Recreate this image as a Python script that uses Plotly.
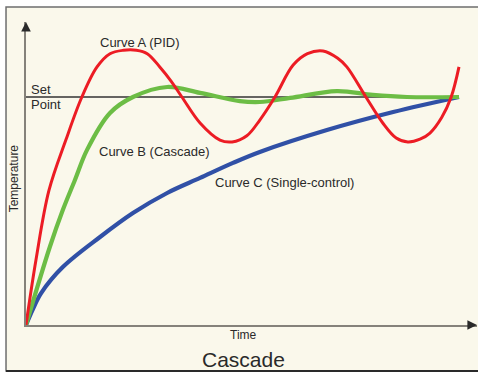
import plotly.graph_objects as go

# Data (time in arbitrary units, temperature relative to set point = 1)
red_t = [0, 2.3, 5.3, 9.2, 12.9, 16.4, 19.4, 22.5, 25.5, 28.0, 30.9, 33.5, 36.0, 40.2, 44.8,
         47.6, 51.0, 54.0, 57.5, 61.7, 65.0, 68.6, 72.0, 74.1, 78.5, 82.4, 85.5, 88.2, 91.0, 93.3,
         96.0, 98.2, 100]
red_y = [0, 0.285, 0.59, 0.811, 1.0, 1.132, 1.19, 1.205, 1.205, 1.19, 1.132, 1.07, 1.0, 0.886,
         0.811, 0.803, 0.83, 0.899, 1.0, 1.14, 1.19, 1.202, 1.17, 1.132, 1.0, 0.886, 0.82, 0.803,
         0.815, 0.842, 0.91, 1.0, 1.132]

green_t = [0, 5.5, 8.5, 11.3, 14.1, 19.4, 24.7, 32.6, 40.2, 49.4, 54.0, 61.0, 71.8, 80.1, 88.0, 100]
green_y = [0, 0.342, 0.504, 0.636, 0.768, 0.930, 1.0, 1.044, 1.018, 0.982, 0.978, 0.996, 1.026,
           1.009, 1.0, 1.0]

blue_t = [0, 1.6, 3.5, 8.5, 17.1, 24.7, 32.6, 40.2, 47.8, 54.0, 69.5, 84.8, 100]
blue_y = [0, 0.07, 0.14, 0.254, 0.386, 0.491, 0.579, 0.645, 0.711, 0.759, 0.855, 0.934, 1.0]

setpoint_t = [0, 100]
setpoint_y = [1.0, 1.0]

x_max = 104.16
y_max = 1.329

FONT = "Liberation Sans, Arial, sans-serif"
TXT = "#2a2a2a"

fig = go.Figure()
fig.add_trace(go.Scatter(x=setpoint_t, y=setpoint_y, mode="lines",
                         line=dict(color="#333333", width=1.6), hoverinfo="skip"))
fig.add_trace(go.Scatter(x=blue_t, y=blue_y, mode="lines",
                         line=dict(color="#3050A6", width=4.2, shape="spline", smoothing=1.0)))
fig.add_trace(go.Scatter(x=green_t, y=green_y, mode="lines",
                         line=dict(color="#6CBD45", width=4.2, shape="spline", smoothing=1.0)))
fig.add_trace(go.Scatter(x=red_t, y=red_y, mode="lines",
                         line=dict(color="#EC1C24", width=3, shape="spline", smoothing=1.0)))

annotations = [
    dict(x=26.1, y=1.237, text="Curve A (PID)", xanchor="center", yanchor="middle"),
    dict(x=0.7, y=1.035, text="Set", xanchor="left", yanchor="middle"),
    dict(x=0.7, y=0.965, text="Point", xanchor="left", yanchor="middle"),
    dict(x=16.4, y=0.759, text="Curve B (Cascade)", xanchor="left", yanchor="middle"),
    dict(x=43.2, y=0.627, text="Curve C (Single-control)", xanchor="left", yanchor="middle"),
]
anns = []
for a in annotations:
    a.update(xref="x", yref="y", showarrow=False, font=dict(family=FONT, size=13, color=TXT))
    anns.append(a)

anns += [
    dict(xref="paper", yref="paper", x=0.483, y=-0.033, text="Time", showarrow=False,
         xanchor="center", yanchor="middle", font=dict(family=FONT, size=12, color=TXT)),
    dict(xref="paper", yref="paper", x=0.483, y=-0.115, text="Cascade", showarrow=False,
         xanchor="center", yanchor="middle", font=dict(family=FONT, size=21, color=TXT)),
    dict(xref="paper", yref="paper", x=-0.026, y=0.485, text="Temperature", showarrow=False,
         textangle=-90, xanchor="center", yanchor="middle", font=dict(family=FONT, size=12, color=TXT)),
    # axis arrowheads
    dict(xref="x", yref="y", x=0, y=y_max, ax=0, ay=8, text="", showarrow=True,
         arrowhead=2, arrowsize=1.2, arrowwidth=1.6, arrowcolor="#2a2a2a"),
    dict(xref="x", yref="y", x=x_max, y=0, ax=-8, ay=0, text="", showarrow=True,
         arrowhead=2, arrowsize=1.2, arrowwidth=1.6, arrowcolor="#2a2a2a"),
]

# frame around the chart panel
shapes = [
    dict(type="rect", xref="paper", yref="paper", x0=-0.0443, x1=1.01, y0=-0.1518, y1=1.0495,
         line=dict(color="#6e6e6e", width=1.5), fillcolor="#FAF8EB", layer="below"),
    dict(type="line", xref="paper", yref="paper", x0=-0.0443, x1=1.01, y0=-0.1518, y1=-0.1518,
         line=dict(color="#2a2a2a", width=2), layer="above"),
]

fig.update_layout(
    width=478, height=373,
    margin=dict(l=26, r=1, t=22, b=48),
    paper_bgcolor="white",
    plot_bgcolor="rgba(0,0,0,0)",
    showlegend=False,
    annotations=anns,
    shapes=shapes,
    xaxis=dict(range=[0, x_max], showgrid=False, zeroline=False, showticklabels=False, ticks="",
               showline=True, linecolor="#85827a", linewidth=2, fixedrange=True),
    yaxis=dict(range=[0, y_max], showgrid=False, zeroline=False, showticklabels=False, ticks="",
               showline=True, linecolor="#85827a", linewidth=2, fixedrange=True),
)

fig.write_html("out.html", config={"displayModeBar": False},
               post_script="document.body.style.margin='0';document.body.style.overflow='hidden';")
